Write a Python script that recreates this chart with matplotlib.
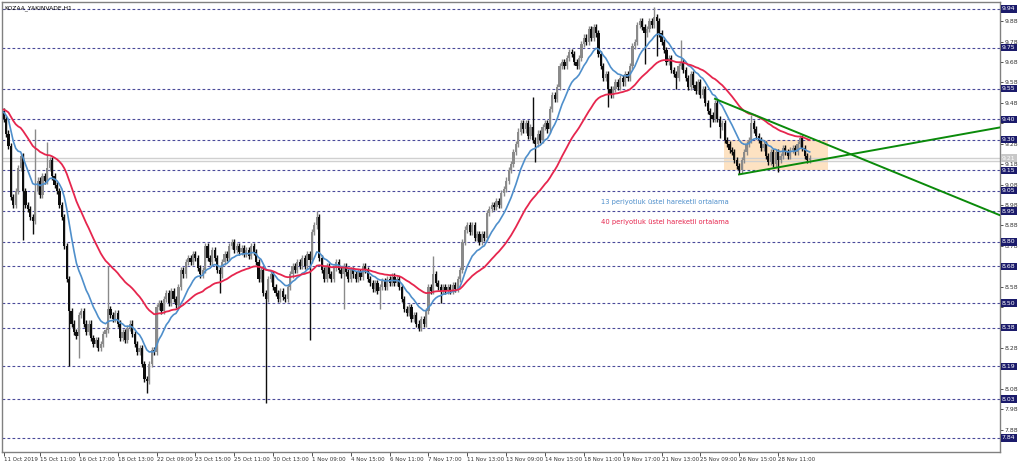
import numpy as np
import matplotlib
matplotlib.use("Agg")
import matplotlib.pyplot as plt
from matplotlib.transforms import blended_transform_factory

# hourly closes (KOZAA nearest-expiry futures, H1)
closes = [
    9.40, 9.33, 9.27, 9.02, 8.98, 9.05, 9.16, 9.22, 9.05, 8.98,
    8.96, 8.92, 8.90, 9.05, 9.10, 9.03, 9.12, 9.10, 9.16, 9.20,
    9.12, 9.08, 9.05, 8.98, 8.92, 8.78, 8.62, 8.46, 8.40, 8.36,
    8.34, 8.44, 8.46, 8.40, 8.36, 8.40, 8.33, 8.30, 8.32, 8.28,
    8.30, 8.35, 8.37, 8.47, 8.44, 8.42, 8.45, 8.40, 8.33, 8.36,
    8.32, 8.38, 8.40, 8.35, 8.30, 8.26, 8.28, 8.20, 8.13, 8.12,
    8.20, 8.27, 8.26, 8.48, 8.50, 8.46, 8.52, 8.55, 8.50, 8.56,
    8.52, 8.49, 8.58, 8.66, 8.64, 8.70, 8.72, 8.70, 8.74, 8.72,
    8.67, 8.64, 8.66, 8.78, 8.72, 8.70, 8.76, 8.72, 8.66, 8.64,
    8.70, 8.74, 8.72, 8.78, 8.80, 8.76, 8.78, 8.75, 8.77, 8.74,
    8.76, 8.73, 8.78, 8.75, 8.70, 8.62, 8.66, 8.55, 8.52, 8.62,
    8.64, 8.58, 8.55, 8.52, 8.56, 8.53, 8.52, 8.58, 8.64, 8.68,
    8.66, 8.70, 8.68, 8.72, 8.68, 8.74, 8.71, 8.85, 8.88, 8.92,
    8.72, 8.66, 8.62, 8.68, 8.64, 8.62, 8.67, 8.70, 8.66, 8.64,
    8.68, 8.65, 8.62, 8.66, 8.64, 8.62, 8.65, 8.63, 8.68, 8.66,
    8.62, 8.60, 8.57, 8.60, 8.56, 8.58, 8.61, 8.58, 8.62, 8.60,
    8.63, 8.60, 8.62, 8.58, 8.52, 8.47, 8.45, 8.48, 8.42, 8.44,
    8.40, 8.38, 8.42, 8.40, 8.46, 8.58, 8.56, 8.64, 8.60, 8.58,
    8.56, 8.58, 8.56, 8.58, 8.56, 8.59, 8.57, 8.62, 8.66, 8.80,
    8.86, 8.88, 8.85, 8.88, 8.82, 8.84, 8.80, 8.84, 8.82, 8.94,
    8.96, 8.98, 8.97, 9.00, 8.98, 9.04, 9.06, 9.10, 9.15, 9.18,
    9.24, 9.28, 9.34, 9.38, 9.35, 9.38, 9.32, 9.36, 9.30, 9.28,
    9.33, 9.30, 9.36, 9.38, 9.35, 9.45, 9.52, 9.50, 9.56, 9.66,
    9.68, 9.66, 9.70, 9.73, 9.72, 9.68, 9.66, 9.70, 9.77, 9.80,
    9.78, 9.84, 9.80, 9.85, 9.82, 9.72, 9.66, 9.60, 9.62, 9.55,
    9.52, 9.55, 9.58, 9.56, 9.60, 9.58, 9.62, 9.60, 9.66, 9.76,
    9.78, 9.86, 9.88, 9.85, 9.82, 9.84, 9.88, 9.86, 9.90, 9.88,
    9.82, 9.78, 9.74, 9.68, 9.70, 9.64, 9.62, 9.60, 9.66, 9.68,
    9.64, 9.60, 9.56, 9.62, 9.57, 9.54, 9.58, 9.52, 9.55, 9.48,
    9.44, 9.42, 9.40, 9.48, 9.40, 9.36, 9.38, 9.30, 9.28, 9.25,
    9.24, 9.20, 9.17, 9.15, 9.20, 9.24, 9.28, 9.30, 9.38, 9.35,
    9.32, 9.30, 9.26, 9.28, 9.22, 9.19, 9.24, 9.18, 9.24, 9.20,
    9.22, 9.26, 9.24, 9.22, 9.25, 9.26, 9.24, 9.28, 9.31, 9.26,
    9.22, 9.20, 9.21,
]
first_open = 9.44
wick = 0.015
# long shadows visible in the picture: bar index -> price
spike_highs = {0: 9.45, 13: 9.35, 18: 9.29, 43: 8.68, 129: 8.95, 177: 8.73,
               218: 9.51, 268: 9.95, 279: 9.79, 308: 9.42, 328: 9.32}
spike_lows = {8: 8.81, 12: 8.84, 27: 8.19, 31: 8.23, 59: 8.06, 89: 8.55,
              108: 8.01, 126: 8.32, 140: 8.47, 155: 8.47, 180: 8.50,
              219: 9.19, 249: 9.46, 264: 9.67, 269: 9.71, 277: 9.55,
              291: 9.36, 295: 9.31, 303: 9.13, 319: 9.14}

ema_fast_seed, ema_slow_seed = 9.44, 9.45

levels = [9.94, 9.75, 9.55, 9.40, 9.30, 9.15, 9.05, 8.95, 8.80, 8.68,
          8.50, 8.38, 8.19, 8.03, 7.84]
bid_ask = [9.212, 9.195]
last_price = 9.21

# triangle drawn on the chart: (bar, price) anchors
trend_upper = [(293.0, 9.50), (410.4, 8.93)]
trend_lower = [(302.9, 9.13), (410.4, 9.36)]
box_bars = (296.7, 339.5)
box_prices = (9.15, 9.30)

date_ticks = [0] + [15 + 16 * k for k in range(20)]
date_labels = ["11 Oct 2019", "15 Oct 11:00", "16 Oct 17:00", "18 Oct 13:00",
               "22 Oct 09:00", "23 Oct 15:00", "25 Oct 11:00", "30 Oct 13:00",
               "1 Nov 09:00", "4 Nov 15:00", "6 Nov 11:00", "7 Nov 17:00",
               "11 Nov 13:00", "13 Nov 09:00", "14 Nov 15:00", "18 Nov 11:00",
               "19 Nov 17:00", "21 Nov 13:00", "25 Nov 09:00", "26 Nov 15:00",
               "28 Nov 11:00"]
price_ticks = [7.88, 7.98, 8.08, 8.18, 8.28, 8.38, 8.48, 8.58, 8.68, 8.78,
               8.88, 8.98, 9.08, 9.18, 9.28, 9.38, 9.48, 9.58, 9.68, 9.78, 9.88]

plt.rcParams["font.family"] = ["DejaVu Sans"]

BULL = "#8a8a8a"
BEAR = "#0d0d0d"
BLUE = "#4f8fcb"
RED = "#e6264e"
LEVEL = "#4a4a9a"


def ema(values, period, seed):
    k = 2.0 / (period + 1)
    out = []
    prev = seed
    for v in values:
        prev = prev + k * (v - prev)
        out.append(prev)
    return np.array(out)


c = np.array(closes)
o = np.concatenate([[first_open], c[:-1]])
h = np.maximum(o, c) + wick
l = np.minimum(o, c) - wick
for i, v in spike_highs.items():
    h[i] = max(h[i], v)
for i, v in spike_lows.items():
    l[i] = min(l[i], v)
idx = np.arange(len(c))
up = c >= o

fig = plt.figure(figsize=(10.24, 4.65), dpi=100)
ax = fig.add_axes([2 / 1024, 13 / 465, 998 / 1024, 450 / 465])
ax.set_xlim(-0.66, 410.4)
ax.set_ylim(7.771, 9.974)

for lv in levels:
    ax.axhline(lv, color=LEVEL, lw=0.8, ls=(0, (2.5, 2)), zorder=1)
for p in bid_ask:
    ax.axhline(p, color="#d0d0d0", lw=1.0, zorder=1)

ax.add_patch(plt.Rectangle((box_bars[0], box_prices[0]),
                           box_bars[1] - box_bars[0],
                           box_prices[1] - box_prices[0],
                           facecolor="#fde2c2", edgecolor="none", zorder=0.5))

colors = np.where(up, BULL, BEAR)
ax.vlines(idx, l, h, colors=colors, lw=1.0, zorder=2)
body = np.maximum(np.abs(c - o), 0.005)
ax.bar(idx, body, bottom=np.minimum(o, c), width=0.9, color=colors,
       edgecolor="none", zorder=3)

ax.plot(idx, ema(c, 13, ema_fast_seed), color=BLUE, lw=1.2, zorder=4)
ax.plot(idx, ema(c, 40, ema_slow_seed), color=RED, lw=1.3, zorder=4)

for (x0, y0), (x1, y1) in [trend_upper, trend_lower]:
    ax.plot([x0, x1], [y0, y1], color="#0a8a0a", lw=1.4, zorder=5)

ax.text(246, 8.994, "13 periyotluk üstel hareketli ortalama", color=BLUE,
        fontsize=4.9, va="center", ha="left", zorder=6)
ax.text(246, 8.896, "40 periyotluk üstel hareketli ortalama", color=RED,
        fontsize=4.9, va="center", ha="left", zorder=6)
ax.text(0.002, 0.987, "KOZAA_YAKINVADE,H1", transform=ax.transAxes,
        fontsize=4.3, va="center", ha="left", color="black")

# axes, ticks
for s in ax.spines.values():
    s.set_color("#808080")
    s.set_linewidth(1.0)
ax.yaxis.tick_right()
ax.set_yticks(price_ticks)
# a scale label sitting under a level box is hidden on the original
ax.set_yticklabels(["" if min(abs(t - lv) for lv in levels) < 0.02 else f"{t:.2f}"
                    for t in price_ticks])
ax.tick_params(axis="y", length=2.5, width=0.6, pad=1, labelsize=4.4,
               colors="#333333")
ax.set_xticks(date_ticks)
ax.set_xticklabels(date_labels)
ax.tick_params(axis="x", length=3, width=0.6, pad=0.5, labelsize=4.0,
               colors="#333333")
for t in ax.get_xticklabels():
    t.set_ha("left")

tr = blended_transform_factory(ax.transAxes, ax.transData)
for lv in levels:
    ax.text(1.002, lv, f"{lv:.2f}", transform=tr, fontsize=4.4, color="white",
            va="center", ha="left", clip_on=False, zorder=10,
            bbox=dict(boxstyle="square,pad=0.2", fc="#1b1b6b", ec="none"))
ax.text(1.002, last_price, f"{last_price:.2f}", transform=tr, fontsize=4.4,
        color="white", va="center", ha="left", clip_on=False, zorder=10,
        bbox=dict(boxstyle="square,pad=0.2", fc="#c8c8c8", ec="none"))

fig.savefig("out.png", dpi=100, facecolor="white")
